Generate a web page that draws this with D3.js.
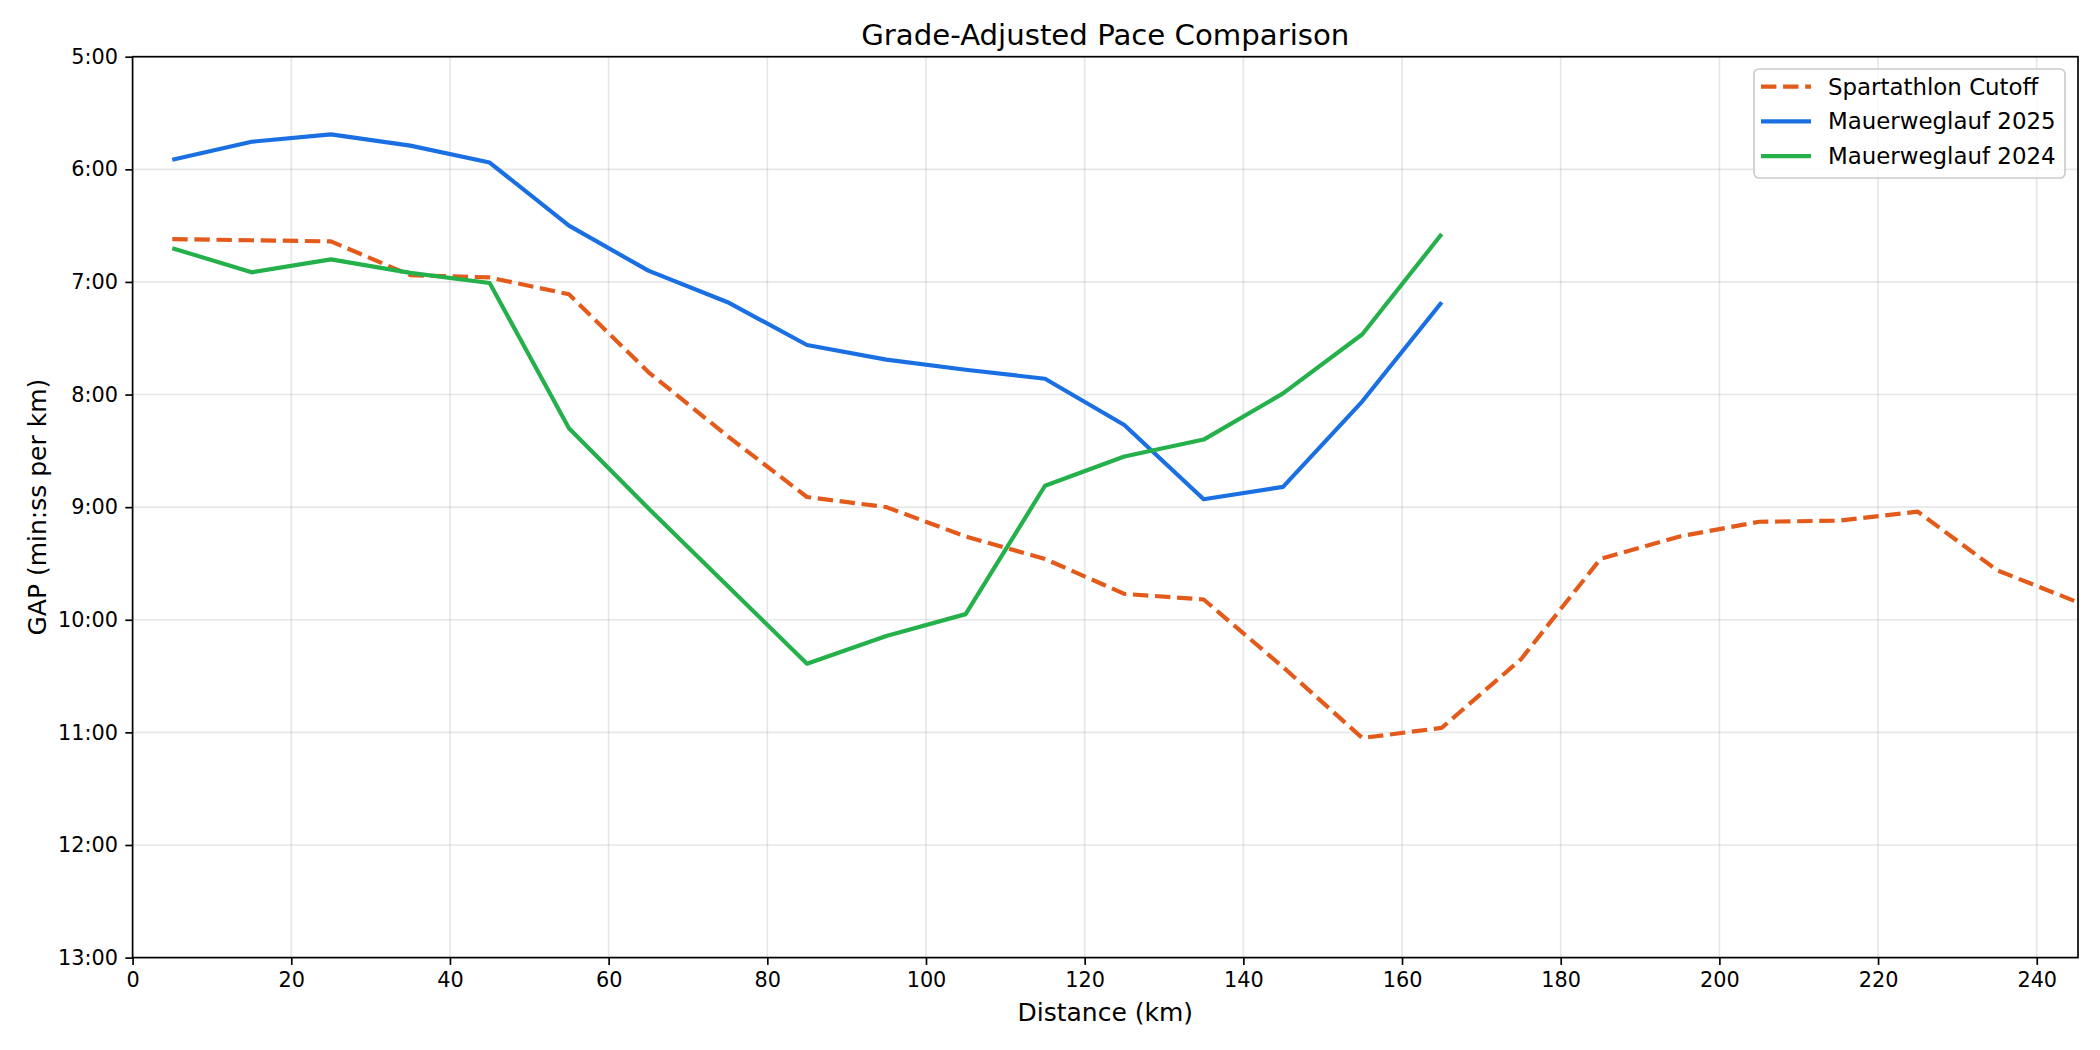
<!DOCTYPE html>
<meta charset="utf-8">
<style>
  body { margin: 0; background: #fff; }
  text { font-family: "DejaVu Sans", sans-serif; fill: #000; }
</style>
<body>
<script src="https://cdn.jsdelivr.net/npm/d3@7"></script>
<script>

    var width = 2100,
        height = 1050;

    // distance markers (km), pace in decimal minutes per km
    var distCutoff = [5, 15, 25, 35, 45, 55, 65, 75, 85, 95, 105, 115, 125, 135, 145, 155, 165, 175, 185, 195, 205, 215, 225, 235, 245];
    var paceCutoff = [6.62, 6.63, 6.64, 6.94, 6.96, 7.11, 7.80, 8.37, 8.91, 9.00, 9.26, 9.46, 9.77, 9.82, 10.42, 11.05, 10.96, 10.35, 9.46, 9.26, 9.13, 9.12, 9.04, 9.56, 9.84];

    var dist2025 = [5, 15, 25, 35, 45, 55, 65, 75, 85, 95, 105, 115, 125, 135, 145, 155, 165];
    var pace2025 = [5.915, 5.755, 5.69, 5.79, 5.94, 6.50, 6.90, 7.18, 7.56, 7.69, 7.78, 7.86, 8.27, 8.93, 8.82, 8.06, 7.18];

    var dist2024 = [5, 15, 25, 35, 45, 55, 65, 75, 85, 95, 105, 115, 125, 135, 145, 155, 165];
    var pace2024 = [6.70, 6.915, 6.80, 6.92, 7.01, 8.30, 9.01, 9.70, 10.39, 10.145, 9.95, 8.81, 8.55, 8.40, 7.99, 7.465, 6.575];

    var xTicks = [0, 20, 40, 60, 80, 100, 120, 140, 160, 180, 200, 220, 240];
    var yTicks = [5, 6, 7, 8, 9, 10, 11, 12, 13];

    var series = [
        {name: "Spartathlon Cutoff", dist: distCutoff, pace: paceCutoff, color: "#e35a1a", dash: "15.4,6.7"},
        {name: "Mauerweglauf 2025", dist: dist2025, pace: pace2025, color: "#1a6fe3", dash: null},
        {name: "Mauerweglauf 2024", dist: dist2024, pace: pace2024, color: "#24b04a", dash: null}
    ];

    var margin = {left: 132.6, right: 22, top: 56.7, bottom: 92.4};
    var plotW = width - margin.left - margin.right,
        plotH = height - margin.top - margin.bottom;

    var x = d3.scaleLinear().domain([0, 245.2]).range([margin.left, margin.left + plotW]);
    var y = d3.scaleLinear().domain([5, 13]).range([margin.top, margin.top + plotH]);

    function fmtPace(v) {
        var m = Math.floor(v), s = Math.round((v - m) * 60);
        if (s === 60) { m += 1; s = 0; }
        return m + ":" + (s < 10 ? "0" : "") + s;
    }

    var svg = d3.select("body").append("svg")
            .attr("width", width)
            .attr("height", height);

    svg.append("rect").attr("width", width).attr("height", height).attr("fill", "#fff");

    svg.append("clipPath").attr("id", "plotclip")
        .append("rect")
        .attr("x", margin.left).attr("y", margin.top)
        .attr("width", plotW).attr("height", plotH);

    // grid
    var grid = svg.append("g");
    grid.selectAll(".vg").data(xTicks).enter().append("line")
        .attr("x1", x).attr("x2", x)
        .attr("y1", margin.top).attr("y2", margin.top + plotH)
        .attr("stroke", "#b0b0b0").attr("stroke-opacity", 0.3).attr("stroke-width", 1.67);
    grid.selectAll(".hg").data(yTicks).enter().append("line")
        .attr("y1", y).attr("y2", y)
        .attr("x1", margin.left).attr("x2", margin.left + plotW)
        .attr("stroke", "#b0b0b0").attr("stroke-opacity", 0.3).attr("stroke-width", 1.67);

    // lines
    var line = d3.line()
        .x(function(d) { return x(d[0]); })
        .y(function(d) { return y(d[1]); });

    var lines = svg.append("g").attr("clip-path", "url(#plotclip)");
    series.forEach(function(s) {
        var pts = s.dist.map(function(d, i) { return [d, s.pace[i]]; });
        lines.append("path")
            .datum(pts)
            .attr("d", line)
            .attr("fill", "none")
            .attr("stroke", s.color)
            .attr("stroke-width", 4.17)
            .attr("stroke-linejoin", "round")
            .attr("stroke-dasharray", s.dash);
    });

    // axes
    var xAxis = d3.axisBottom(x).tickValues(xTicks).tickSize(7.3).tickPadding(7.3).tickFormat(d3.format("d"));
    var yAxis = d3.axisLeft(y).tickValues(yTicks).tickSize(7.3).tickPadding(7.3).tickFormat(fmtPace);

    var gx = svg.append("g").attr("transform", "translate(0," + (margin.top + plotH) + ")").call(xAxis);
    var gy = svg.append("g").attr("transform", "translate(" + margin.left + ",0)").call(yAxis);
    [gx, gy].forEach(function(g) {
        g.select(".domain").remove();
        g.selectAll(".tick line").attr("stroke", "#000").attr("stroke-width", 1.67);
        g.selectAll(".tick text").attr("font-size", "20.8px").attr("font-family", "DejaVu Sans");
    });

    // frame
    svg.append("rect")
        .attr("x", margin.left).attr("y", margin.top)
        .attr("width", plotW).attr("height", plotH)
        .attr("fill", "none").attr("stroke", "#000").attr("stroke-width", 1.67);

    // titles
    svg.append("text")
        .attr("x", margin.left + plotW / 2).attr("y", 35)
        .attr("text-anchor", "middle").attr("dominant-baseline", "central")
        .attr("font-size", "29.2px")
        .text("Grade-Adjusted Pace Comparison");

    svg.append("text")
        .attr("x", margin.left + plotW / 2).attr("y", 1012)
        .attr("text-anchor", "middle").attr("dominant-baseline", "central")
        .attr("font-size", "25px")
        .text("Distance (km)");

    svg.append("text")
        .attr("transform", "translate(37.5," + (margin.top + plotH / 2) + ") rotate(-90)")
        .attr("text-anchor", "middle").attr("dominant-baseline", "central")
        .attr("font-size", "25px")
        .text("GAP (min:ss per km)");

    // legend
    var legX = 1754, legY = 69, legW = 311, legH = 109;
    var leg = svg.append("g");
    leg.append("rect")
        .attr("x", legX).attr("y", legY).attr("width", legW).attr("height", legH)
        .attr("rx", 5).attr("ry", 5)
        .attr("fill", "#fff").attr("fill-opacity", 0.8)
        .attr("stroke", "#cccccc").attr("stroke-width", 1.67);

    series.forEach(function(s, i) {
        var cy = 86.7 + i * 34.7;
        leg.append("line")
            .attr("x1", 1761).attr("x2", 1811)
            .attr("y1", cy).attr("y2", cy)
            .attr("stroke", s.color).attr("stroke-width", 4.17)
            .attr("stroke-dasharray", s.dash);
        leg.append("text")
            .attr("x", 1828).attr("y", cy)
            .attr("dominant-baseline", "central")
            .attr("font-size", "22.9px")
            .text(s.name);
    });

</script>
